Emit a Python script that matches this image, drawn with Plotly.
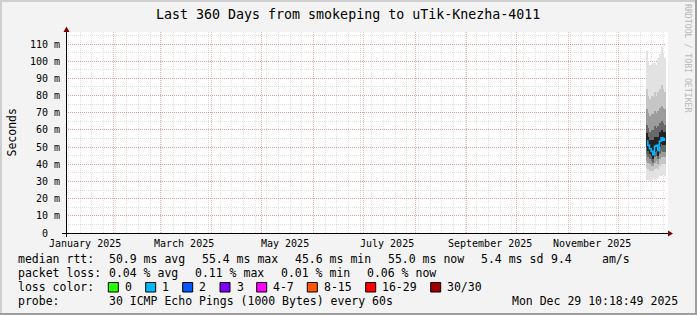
import plotly.graph_objects as go

# ---------------- data ----------------
range_start = "2025-01-03 10:18:49"
range_end = "2025-12-29 10:18:49"

month_grid_start = "2025-01-01"
week_grid_start = "2025-01-05"

x_label_dates = ["2025-01-15", "2025-03-15", "2025-05-15", "2025-07-15", "2025-09-15", "2025-11-15"]
x_label_text = ["January 2025", "March 2025", "May 2025", "July 2025", "September 2025", "November 2025"]

y_tick_vals = [0, 10, 20, 30, 40, 50, 60, 70, 80, 90, 100, 110]
y_tick_text = ["0", "10 m", "20 m", "30 m", "40 m", "50 m", "60 m", "70 m",
               "80 m", "90 m", "100 m", "110 m"]

days = ["2025-12-18", "2025-12-19", "2025-12-20", "2025-12-21", "2025-12-22", "2025-12-23",
        "2025-12-24", "2025-12-25", "2025-12-26", "2025-12-27", "2025-12-28", "2025-12-29"]
rtt_max = [106, 100, 98, 98, 99, 99, 98, 102, 104, 108, 105, 102]
rtt_p90 = [84, 80, 78, 80, 79, 82, 80, 82, 84, 86, 84, 82]
rtt_p80 = [72, 70, 68, 69, 69, 71, 70, 71, 73, 74, 73, 72]
rtt_p70 = [63, 61, 59, 60, 60, 62, 61, 62, 64, 65, 64, 63]
rtt_p60 = [58, 56, 54, 54, 54, 56, 56, 56, 59, 60, 59, 59]
rtt_median = [53.5, 51, 49, 47.5, 45.6, 50.5, 51, 48, 53.5, 55.4, 54, 55.0]
rtt_p40 = [50, 48, 46, 45, 43, 47, 48, 45, 50, 52, 51, 51]
rtt_p30 = [46, 44, 43, 42, 41, 44, 45, 43, 46, 48, 47, 47]
rtt_p20 = [42, 41, 40, 39, 39, 41, 42, 40, 43, 44, 44, 44]
rtt_p10 = [38, 37, 36, 36, 36, 37, 38, 37, 39, 40, 40, 40]
rtt_min = [31, 31, 30, 31, 32, 31, 32, 32, 33, 33, 34, 33]

title_text = "Last 360 Days from smokeping to uTik-Knezha-4011"

legend_rows = [
    [("median rtt:", 16), ("50.9 ms avg", 107.3), ("55.4 ms max", 200), ("45.6 ms min", 293.3),
     ("55.0 ms now", 385.7), ("5.4 ms sd", 479), ("9.4", 549.3), ("am/s", 600)],
    [("packet loss:", 16), ("0.04 % avg", 107.3), ("0.11 % max", 193), ("0.01 % min", 279.3),
     ("0.06 % now", 365)],
]
loss_labels = ["0", "1", "2", "3", "4-7", "8-15", "16-29", "30/30"]
loss_colors = ["#26ff00", "#00b8ff", "#0059ff", "#7e00ff", "#ff00ff", "#ff5500", "#ff0000", "#a10000"]
loss_box_x = [108.3, 145.7, 182.7, 220, 256.7, 307.3, 365.7, 430.7]
probe_text = "30 ICMP Echo Pings (1000 Bytes) every 60s"
date_text = "Mon Dec 29 10:18:49 2025"

# ---------------- layout geometry (pixels) ----------------
WIDTH, HEIGHT = 697, 315
L, R = 66, 666
T, B = 32, 233
FONT = "DejaVu Sans Mono"
BG = "#f3f3f3"
LEG_SIZE = 11.5


def px(x):
    return (x - L) / (R - L)


def py(y):
    return (B - y) / (B - T)


DAY_MS = 86400000

fig = go.Figure()

bands = [
    (rtt_min, rtt_max, "#e2e2e2"),
    (rtt_p10, rtt_p90, "#c6c6c6"),
    (rtt_p20, rtt_p80, "#9c9c9c"),
    (rtt_p30, rtt_p70, "#686868"),
    (rtt_p40, rtt_p60, "#222222"),
]
for lo, hi, col in bands:
    fig.add_trace(go.Bar(
        x=days, base=lo, y=[h - l for h, l in zip(hi, lo)],
        width=DAY_MS, marker=dict(color=col, line=dict(width=0)),
        hoverinfo="skip", showlegend=False,
    ))

fig.add_trace(go.Scatter(
    x=days, y=rtt_median, mode="lines",
    line=dict(color="#00b8ff", width=1.6, shape="hvh"),
    showlegend=False, hoverinfo="skip",
))

grid_major = "rgba(200,73,73,0.4)"
grid_minor = "rgba(143,143,143,0.28)"

fig.update_layout(
    width=WIDTH, height=HEIGHT,
    margin=dict(l=L, r=WIDTH - R, t=T, b=HEIGHT - B, pad=0),
    paper_bgcolor=BG, plot_bgcolor="rgba(0,0,0,0)",
    barmode="overlay", bargap=0,
    showlegend=False,
    font=dict(family=FONT, size=LEG_SIZE, color="#000000"),
    xaxis=dict(
        type="date", range=[range_start, range_end],
        tickmode="linear", tick0=month_grid_start, dtick="M1",
        showticklabels=False, ticks="",
        showgrid=True, gridcolor=grid_major, griddash="1px,1px", gridwidth=1,
        minor=dict(tickmode="linear", tick0=week_grid_start, dtick=7 * DAY_MS,
                   showgrid=True, gridcolor=grid_minor, griddash="1px,1px", gridwidth=1),
        showline=False, zeroline=False, fixedrange=True,
    ),
    yaxis=dict(
        range=[0, 117], tickmode="array", tickvals=y_tick_vals,
        showticklabels=False, ticks="",
        showgrid=True, gridcolor=grid_major, griddash="1px,1px", gridwidth=1,
        minor=dict(tickmode="linear", tick0=0, dtick=5,
                   showgrid=True, gridcolor=grid_minor, griddash="1px,1px", gridwidth=1),
        showline=False, zeroline=False, fixedrange=True,
    ),
)

shapes = []
# white canvas
shapes.append(dict(type="rect", xref="paper", yref="paper", layer="below",
                   x0=px(66), x1=px(668), y0=py(233), y1=py(32),
                   fillcolor="#ffffff", line=dict(width=0)))
# frame
shapes += [
    dict(type="rect", xref="paper", yref="paper", x0=px(0), x1=px(2), y0=py(0), y1=py(315),
         fillcolor="#cfcfcf", line=dict(width=0)),
    dict(type="rect", xref="paper", yref="paper", x0=px(0), x1=px(697), y0=py(0), y1=py(2),
         fillcolor="#cfcfcf", line=dict(width=0)),
    dict(type="rect", xref="paper", yref="paper", x0=px(695), x1=px(697), y0=py(0), y1=py(315),
         fillcolor="#9e9e9e", line=dict(width=0)),
    dict(type="rect", xref="paper", yref="paper", x0=px(0), x1=px(697), y0=py(313), y1=py(315),
         fillcolor="#9e9e9e", line=dict(width=0)),
]
# axis lines
shapes.append(dict(type="line", xref="paper", yref="paper", x0=px(62), x1=px(669),
                   y0=py(233.5), y1=py(233.5), line=dict(color="#000000", width=1)))
shapes.append(dict(type="line", xref="paper", yref="paper", x0=px(66.5), x1=px(66.5),
                   y0=py(237), y1=py(29), line=dict(color="#000000", width=1)))
# arrows
shapes.append(dict(type="path", xref="paper", yref="paper",
                   path=f"M {px(668)} {py(230.5)} L {px(668)} {py(236.5)} L {px(673)} {py(233.5)} Z",
                   fillcolor="#7f0000", line=dict(width=0)))
shapes.append(dict(type="path", xref="paper", yref="paper",
                   path=f"M {px(63.5)} {py(32)} L {px(69.5)} {py(32)} L {px(66.5)} {py(26.5)} Z",
                   fillcolor="#7f0000", line=dict(width=0)))
# loss colour boxes
for bx, col in zip(loss_box_x, loss_colors):
    shapes.append(dict(type="rect", xref="paper", yref="paper",
                       x0=px(bx), x1=px(bx + 10), y0=py(282.5), y1=py(292),
                       fillcolor=col, line=dict(color="#000000", width=1)))
fig.update_layout(shapes=shapes)

ann = []


def text_at(txt, x, y, size=LEG_SIZE, anchor="left", **kw):
    ann.append(dict(text=txt, xref="paper", yref="paper", x=px(x), y=py(y),
                    xanchor=anchor, yanchor="middle", showarrow=False,
                    font=dict(family=FONT, size=size, color=kw.pop("color", "#000000")), **kw))


text_at(title_text, 348, 14.5, size=13.3, anchor="center")
text_at("Seconds", 11, 132.5, anchor="center", textangle=-90)
text_at("RRDTOOL / TOBI OETIKER", 688.5, 58.5, size=8.2, anchor="center", textangle=90, color="#b8b8b8")

for v, t in zip(y_tick_vals, y_tick_text):
    right_edge = 61.5 if t.endswith("m") else 49.5
    ann.append(dict(text=t, xref="paper", yref="y", x=px(right_edge), y=v,
                    xanchor="right", yanchor="middle", showarrow=False,
                    font=dict(family=FONT, size=10, color="#000000")))
for d, t in zip(x_label_dates, x_label_text):
    ann.append(dict(text=t, xref="x", yref="paper", x=d, y=py(243),
                    xanchor="center", yanchor="middle", showarrow=False,
                    font=dict(family=FONT, size=10, color="#000000")))

row_y = [259.3, 273.3, 287.3, 301]
for row, yy in zip(legend_rows, row_y):
    for txt, xx in row:
        text_at(txt, xx, yy)
text_at("loss color:", 16, row_y[2])
for bx, lab in zip(loss_box_x, loss_labels):
    text_at(lab, bx + 14.5, row_y[2])
text_at("probe:", 16, row_y[3])
text_at(probe_text, 107.3, row_y[3])
text_at(date_text, 680, row_y[3], anchor="right")
fig.update_layout(annotations=ann)

fig.write_html("out.html")
